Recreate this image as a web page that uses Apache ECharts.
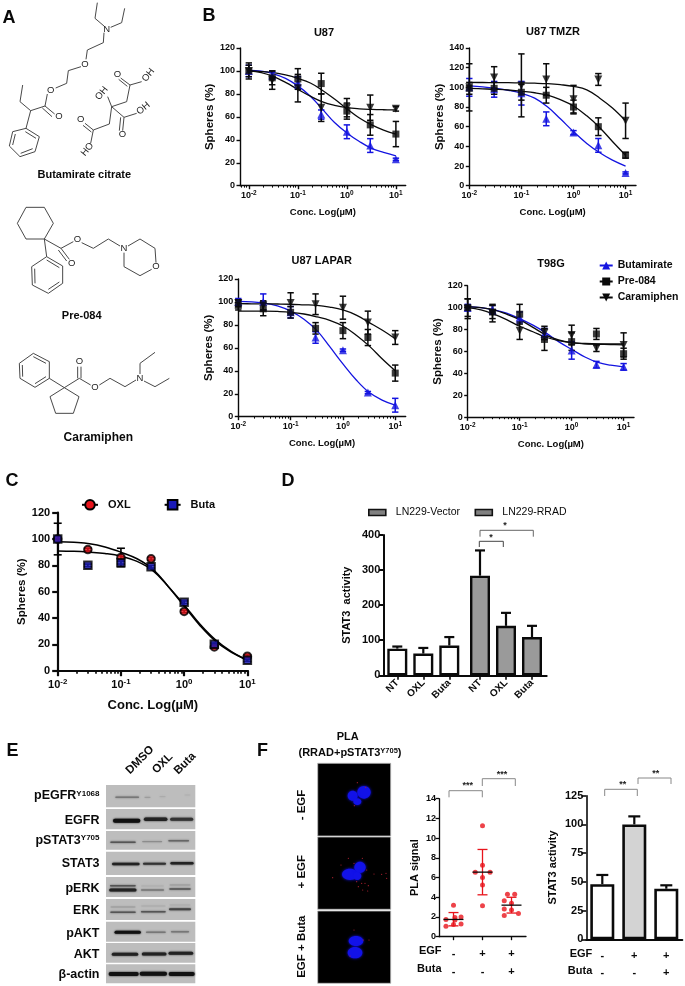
<!DOCTYPE html>
<html><head><meta charset="utf-8">
<style>html,body{margin:0;padding:0;background:#fff}#c{width:685px;height:986px}</style>
<script src="https://cdn.jsdelivr.net/npm/echarts@6/dist/echarts.min.js"></script>
</head><body><div id="c"></div>
<script>
// ---------- data ----------
const conc = [0.01,0.03,0.1,0.3,1,3,10];
const curveConc = [0.01,0.018,0.032,0.056,0.1,0.18,0.32,0.56,1,1.8,3.2,5.6,10];

const u87Buta = [100,96,90,62,47,35,23];
const u87ButaErr = [5,3,5,4,6,6,1];
const u87Pre = [100,94,93,89,65,53,45];
const u87PreErr = [5,6,9,9,7,9,11];
const u87Cara = [100,92,85,68,68,68,67];
const u87CaraErr = [7,8,12,12,8,11,2];
const u87ButaCurve = [100.5,99.8,97.5,93.5,87,78,66.5,55,46,38.5,32.5,29,26];
const u87PreCurve = [100,99.5,98.5,96.5,93.5,89.5,83,75.5,67,59,53,48.5,45];
const u87CaraCurve = [100,98.5,95,90,84,78,73,70,68,67,66.5,66.2,66];

const tmzButa = [100,98,94,68,54,41,13];
const tmzButaErr = [9,8,12,7,2,7,1];
const tmzPre = [99,99,95,92,80,60,31];
const tmzPreErr = [6,6,8,8,7,9,3];
const tmzCara = [100,110,102,108,88,108,66];
const tmzCaraErr = [24,11,32,16,14,6,18];
const tmzButaCurve = [101.5,100.5,99,97,94,89,80,68,55,43,33.5,26,20];
const tmzPreCurve = [99,98.5,98,97.3,96,94.5,92,87.5,81,71,59,45,31];
const tmzCaraCurve = [105,104.9,104.8,104.7,104.5,104.2,103.7,102.7,101,97.5,89,79,66];

const lapButa = [100,100,91,69,58,21,10];
const lapButaErr = [3,7,5,5,1,1,6];
const lapPre = [97,94,91,77,75,69,38];
const lapPreErr = [4,6,5,5,7,7,7];
const lapCara = [99,97,99,98,95,82,69];
const lapCaraErr = [3,4,9,9,10,10,6];
const lapButaCurve = [100.5,100,99,96.5,92,85,75,61,46,32,21,14.5,10];
const lapPreCurve = [92,92,92,91.7,91,89.5,87,84,79,71,61.5,50.5,40];
const lapCaraCurve = [98.5,98.4,98.3,98.2,98,97.5,97,95.5,93,88.5,82,75.5,68];

const t98Buta = [100,98,91,76,61,48,46];
const t98ButaErr = [3,4,5,5,8,3,3];
const t98Pre = [100,96,94,71,69,76,58];
const t98PreErr = [8,6,9,10,8,5,5];
const t98Cara = [99,95,79,77,75,63,66];
const t98CaraErr = [9,8,8,6,9,3,11];
const t98ButaCurve = [101,100,98,95,90,84,77,69,62,55,50,47.5,46];
const t98PreCurve = [101,100,98,94,89,82,75,70.5,68,67,66.6,66.3,66];
const t98CaraCurve = [100,98,94,89,83,78,73,70,68,67.3,67,67,67];

const oxl = [100,92,86,85,45,18,11];
const oxlErr = [0,1,7,1,1,1,1];
const buta = [100,80,82,79,52,20,8];
const butaErr = [12,1,1,1,1,1,1];
const oxlCurve = [98,97.5,96.5,94,90,85,77,64,49,34,22,14,8];
const butaCurve = [91,90.7,90,89,87,83,76,64,50,35,23,14.5,8];

const dCats = ['NT','OXL','Buta'];
const dVector = [76,62,85];
const dVectorTop = [82,78,109];
const dRrad = [284,141,109];
const dRradTop = [356,178,141];

const plaPoints = [[1,3.2],[0.74,1.75],[1.05,1.95],[1.26,2.0],[0.74,1.05],[1,1.25],[1.26,1.3],[1.05,1.7],
  [2,11.25],[2,7.25],[1.75,6.55],[2,6],[2,5.25],[2.26,6.55],[2,3.15],
  [2.86,4.3],[3.11,4.3],[3,3.4],[2.75,3.65],[2.75,2.8],[3,2.7],[2.75,2.15],[3.24,2.35]];
const plaMean = [1.75,6.55,3.2];
const plaLow = [1.1,4.25,2.4];
const plaHigh = [2.45,8.85,4.0];
const egfSigns = ['-','+','+'];
const butaSigns = ['-','-','+'];

const fCats = ['Control','EGF','EGF + Buta'];
const fStat3 = [48,100,44];
const fStat3Top = [56,107,47];
const fFill = ['#ffffff','#d3d3d3','#ffffff'];

const blotNames = [['{m|pEGFR}{s|Y1068}',796],['{m|EGFR}',820.7],['{m|pSTAT3}{s|Y705}',840.7],['{m|STAT3}',863.3],
  ['{m|pERK}',889],['{m|ERK}',910.7],['{m|pAKT}',933.3],['{m|AKT}',955],['{m|β-actin}',974.3]];

// ---------- helpers ----------
const F = '"Liberation Sans", Arial, sans-serif';
const grid=[], xAxis=[], yAxis=[], series=[], title=[], legend=[], graphic=[];
const log10 = Math.log10;
const BLUE='#1414e0', K='#0a0a0a';
const ts=(size,weight)=>({fontSize:size,fontWeight:weight||'bold',fontFamily:F,color:K});

function errSeries(xi, yi, rows, color, cap, lw){
  return {type:'custom', name:'error bars', xAxisIndex:xi, yAxisIndex:yi, silent:true, z:4, clip:false,
    encode:{x:0,y:[1,2]}, data:rows,
    renderItem(p, api){
      const a=api.coord([api.value(0),api.value(1)]), b=api.coord([api.value(0),api.value(2)]);
      const st={stroke:color,lineWidth:lw,fill:null};
      const kids=[{type:'line',shape:{x1:a[0],y1:a[1],x2:b[0],y2:b[1]},style:st},
                  {type:'line',shape:{x1:b[0]-cap,y1:b[1],x2:b[0]+cap,y2:b[1]},style:st}];
      if(!(api.value(3)===api.value(1)))
        kids.push({type:'line',shape:{x1:a[0]-cap,y1:a[1],x2:a[0]+cap,y2:a[1]},style:st});
      return {type:'group',children:kids};
    }};
}
function tickStyle(lw,c){return {lineStyle:{color:c||K,width:lw}};}
function logAxes(o){
  const g=grid.length;
  grid.push({left:o.left,top:o.top,width:o.right-o.left,height:o.bottom-o.top});
  const majors=[-2,-1,0,1];
  const minors=[];
  for(let d=-3;d<=1;d++)for(let m=2;m<=9;m++){const v=d+log10(m); if(v>o.xmin&&v<o.xmax)minors.push(v);}
  const xi=xAxis.length;
  xAxis.push({type:'value',gridIndex:g,position:'bottom',min:o.xmin,max:o.xmax,splitLine:{show:false},
    axisLine:{onZero:false,...tickStyle(o.lw)},
    axisTick:{customValues:majors,length:o.tick,...tickStyle(o.lw)},
    axisLabel:{customValues:majors,margin:o.margin,formatter:v=>`{b|10}{s|${Math.round(v)}}`,
      rich:{b:ts(o.fs),s:Object.assign(ts(o.fs*0.72),{padding:[0,0,o.fs*0.5,0]})}},
    name:'Conc. Log(µM)',nameLocation:'middle',nameGap:o.nameGapX,nameTextStyle:ts(o.nameFs)});
  xAxis.push({type:'value',gridIndex:g,position:'bottom',min:o.xmin,max:o.xmax,splitLine:{show:false},
    axisLine:{show:false,onZero:false},
    axisTick:{customValues:minors,length:o.tick*0.55,lineStyle:{color:K,width:o.lw*0.75}},axisLabel:{show:false}});
  const yi=yAxis.length;
  yAxis.push({type:'value',gridIndex:g,min:0,max:o.ymax,interval:o.yint,splitLine:{show:false},
    axisLine:{show:true,onZero:false,...tickStyle(o.lw)},axisTick:{show:true,length:o.tick,...tickStyle(o.lw)},
    axisLabel:Object.assign({margin:o.margin},ts(o.fs)),
    name:'Spheres (%)',nameLocation:'middle',nameGap:o.nameGapY,nameTextStyle:ts(o.nameYFs)});
  return {xi,yi};
}
function curve(ax,name,vals,color,sym,rot,size,lw,itemExtra){
  series.push({type:'line',name,xAxisIndex:ax.xi,yAxisIndex:ax.yi,smooth:0.4,showSymbol:false,silent:true,z:3,
    symbol:sym,symbolRotate:rot,symbolSize:size,
    itemStyle:Object.assign({color},itemExtra||{}),
    lineStyle:{color:itemExtra?'#000':color,width:lw},
    data:curveConc.map((c,i)=>[log10(c),vals[i]])});
}
function points(ax,name,vals,errs,color,sym,rot,size,lw,cap,lwE,extra,errColor){
  series.push(errSeries(ax.xi,ax.yi,conc.map((c,i)=>[log10(c),vals[i]-errs[i],vals[i]+errs[i]]),errColor||color,cap,lwE));
  series.push({type:'scatter',name:name+' points',xAxisIndex:ax.xi,yAxisIndex:ax.yi,silent:true,z:5,
    symbol:sym,symbolRotate:rot,symbolSize:size,itemStyle:Object.assign({color},extra||{}),
    data:conc.map((c,i)=>[log10(c),vals[i]])});
}
function panelB(o,tt,b,be,p,pe,c,ce,bc,pc,cc){
  const ax=logAxes(Object.assign({lw:1.4,tick:3.5,margin:5,fs:9,nameFs:9.5,nameYFs:11.5,nameGapX:22,nameGapY:17},o));
  curve(ax,'Butamirate',bc,BLUE,'triangle',0,8,1.3);
  curve(ax,'Pre-084',pc,K,'rect',0,7,1.3);
  curve(ax,'Caramiphen',cc,K,'triangle',180,8,1.3);
  points(ax,'Butamirate',b,be,BLUE,'triangle',0,8,0,3.2,1.5);
  points(ax,'Pre-084',p,pe,K,'rect',0,7,0,3.2,1.5);
  points(ax,'Caramiphen',c,ce,K,'triangle',180,8,0,3.2,1.5);
  title.push({text:tt,left:o.tx,top:o.ty,textAlign:'center',padding:0,textStyle:ts(11)});
}

// ---------- panel B ----------
panelB({left:240,right:405.7,top:48,bottom:185.7,xmin:-2.18,xmax:1.2,ymax:120,yint:20,tx:324,ty:27},'U87',
  u87Buta,u87ButaErr,u87Pre,u87PreErr,u87Cara,u87CaraErr,u87ButaCurve,u87PreCurve,u87CaraCurve);
panelB({left:469.3,right:636,top:48,bottom:185.7,xmin:-2,xmax:1.2,ymax:140,yint:20,tx:553,ty:26},'U87 TMZR',
  tmzButa,tmzButaErr,tmzPre,tmzPreErr,tmzCara,tmzCaraErr,tmzButaCurve,tmzPreCurve,tmzCaraCurve);
panelB({left:238.3,right:405.7,top:279,bottom:416.7,xmin:-2,xmax:1.2,ymax:120,yint:20,tx:321.7,ty:255.5},'U87 LAPAR',
  lapButa,lapButaErr,lapPre,lapPreErr,lapCara,lapCaraErr,lapButaCurve,lapPreCurve,lapCaraCurve);
panelB({left:467.7,right:634,top:285.7,bottom:417.3,xmin:-2,xmax:1.2,ymax:120,yint:20,tx:551,ty:258.5},'T98G',
  t98Buta,t98ButaErr,t98Pre,t98PreErr,t98Cara,t98CaraErr,t98ButaCurve,t98PreCurve,t98CaraCurve);
legend.push({orient:'vertical',left:598.7,top:260,padding:0,itemWidth:13,itemHeight:10,itemGap:5,
  data:['Butamirate','Pre-084','Caramiphen'],selectedMode:false,textStyle:ts(10.5)});

// ---------- panel C ----------
{
  const ax=logAxes({left:57.7,right:248,top:512.7,bottom:670.7,xmin:-2,xmax:1.01,ymax:120,yint:20,lw:2.2,tick:5.5,margin:7.5,fs:11,
    nameFs:13,nameYFs:11.5,nameGapX:28,nameGapY:29});
  const ring={borderColor:'#000',borderWidth:2};
  curve(ax,'OXL',oxlCurve,'#e8141c','circle',0,10,1.5,ring);
  curve(ax,'Buta',butaCurve,'#1a1ab8','rect',0,10,1.5,ring);
  points(ax,'OXL',oxl,oxlErr,'#e8141c','circle',0,7.5,0,4,1.6,ring,'#000');
  points(ax,'Buta',buta,butaErr,'#1a1ab8','rect',0,7.5,0,4,1.6,ring,'#000');
  legend.push({left:81,top:499,padding:0,itemWidth:16,itemHeight:12,itemGap:33,selectedMode:false,
    data:['OXL','Buta'],textStyle:Object.assign(ts(11),{padding:[0,0,0,5]})});
}

// ---------- panel D ----------
function barChartSeries(gi,xi,yi,name,cats,vals,tops,fill,bw,blw,cap,lwE){
  series.push({type:'bar',name,xAxisIndex:xi,yAxisIndex:yi,barWidth:bw,silent:true,z:2,
    itemStyle:{color:Array.isArray(fill)?(p=>fill[p.dataIndex]):fill,borderColor:K,borderWidth:blw},data:vals});
  const rows=cats.map((c,i)=>[i,vals[i],tops[i],vals[i]]);
  series.push(errSeries(xi,yi,rows,K,cap,lwE));
}
{
  // frame: full-width baseline and y axis
  const g0=grid.length;
  grid.push({left:383.3,top:535,width:163.4,height:140.3});
  xAxis.push({type:'category',gridIndex:g0,data:[''],axisLine:{...tickStyle(2)},axisTick:{show:false},axisLabel:{show:false}});
  yAxis.push({type:'value',gridIndex:g0,min:0,max:400,interval:100,splitLine:{show:false},
    axisLine:{show:true,...tickStyle(2)},axisTick:{show:true,length:4.5,...tickStyle(2)},
    axisLabel:Object.assign({margin:3},ts(11)),
    name:'STAT3  activity',nameLocation:'middle',nameGap:31,nameTextStyle:ts(11)});
  const mk=(left,name,vals,tops,fill)=>{
    const g=grid.length;
    grid.push({left,top:535,width:78,height:140.3});
    const xi=xAxis.length;
    xAxis.push({type:'category',gridIndex:g,data:dCats,axisLine:{show:false},
      axisTick:{show:true,length:4.5,alignWithLabel:true,...tickStyle(1.6)},
      axisLabel:Object.assign({rotate:45,margin:6,interval:0},ts(10))});
    const yi=yAxis.length;
    yAxis.push({type:'value',gridIndex:g,min:0,max:400,show:false});
    barChartSeries(g,xi,yi,name,dCats,vals,tops,fill,20,2.4,5,2.2);
  };
  mk(384.3,'LN229-Vector',dVector,dVectorTop,'#ffffff');
  mk(467,'LN229-RRAD',dRrad,dRradTop,'#9a9a9a');
  const sw={color:'#808080',borderColor:'#111',borderWidth:1.6};
  legend.push({left:368,top:507,padding:0,itemWidth:17,itemHeight:6,itemGap:14.5,selectedMode:false,
    data:[{name:'LN229-Vector',icon:'rect',itemStyle:sw},{name:'LN229-RRAD',icon:'rect',itemStyle:sw}],
    textStyle:Object.assign(ts(10.5,'normal'),{padding:[0,0,0,5]})});
}

// ---------- panel F: PLA scatter ----------
{
  const g=grid.length;
  grid.push({left:439,top:798.7,width:87,height:138});
  const xi=xAxis.length;
  xAxis.push({type:'value',gridIndex:g,min:0.5,max:3.5,splitLine:{show:false},axisLine:{onZero:false,...tickStyle(1.3)},
    axisTick:{customValues:[1,2,3],length:3.5,...tickStyle(1.3)},
    axisLabel:Object.assign({customValues:[1,2,3],margin:8,lineHeight:18,
      formatter:v=>egfSigns[v-1]+'\n'+butaSigns[v-1]},ts(11))});
  const yi=yAxis.length;
  yAxis.push({type:'value',gridIndex:g,min:0,max:14,interval:2,splitLine:{show:false},
    axisLine:{show:true,onZero:false,...tickStyle(1.3)},axisTick:{show:true,length:3.5,...tickStyle(1.3)},
    axisLabel:Object.assign({margin:3},ts(9)),
    name:'PLA signal',nameLocation:'middle',nameGap:19,nameTextStyle:ts(11)});
  series.push({type:'scatter',name:'PLA signal',xAxisIndex:xi,yAxisIndex:yi,silent:true,z:3,symbolSize:5,
    itemStyle:{color:'#e8141c'},data:plaPoints});
  series.push(errSeries(xi,yi,[1,2,3].map((x,i)=>[x,plaLow[i],plaHigh[i]]),'#e8141c',5,1.3));
  series.push({type:'custom',name:'PLA mean',xAxisIndex:xi,yAxisIndex:yi,silent:true,z:6,encode:{x:0,y:1},
    data:[1,2,3].map((x,i)=>[x,plaMean[i]]),
    renderItem(p,api){const c=api.coord([api.value(0),api.value(1)]);
      return {type:'line',shape:{x1:c[0]-10,y1:c[1],x2:c[0]+10,y2:c[1]},style:{stroke:K,lineWidth:1.3}};}});
}
// ---------- panel F: STAT3 bars ----------
{
  const g=grid.length;
  grid.push({left:586.3,top:795.7,width:96,height:143.6});
  const xi=xAxis.length;
  xAxis.push({type:'category',gridIndex:g,data:fCats,axisLine:{...tickStyle(2)},
    axisTick:{length:4,alignWithLabel:true,...tickStyle(1.6)},
    axisLabel:Object.assign({interval:0,margin:8,lineHeight:17,
      formatter:(v,i)=>egfSigns[i]+'\n'+butaSigns[i]},ts(11))});
  const yi=yAxis.length;
  yAxis.push({type:'value',gridIndex:g,min:0,max:125,interval:25,splitLine:{show:false},
    axisLine:{show:true,...tickStyle(1.6)},axisTick:{show:true,length:5,...tickStyle(1.6)},
    axisLabel:Object.assign({margin:3},ts(11)),
    name:'STAT3 activity',nameLocation:'middle',nameGap:28,nameTextStyle:ts(11)});
  barChartSeries(g,xi,yi,'STAT3 activity',fCats,fStat3,fStat3Top,fFill,24,2.6,6,2.2);
}

// ---------- non-data artwork ----------
const txt=(x,y,text,font,o)=>graphic.push(Object.assign({type:'text',x,y,silent:true,
  style:Object.assign({text,font,fill:K,textAlign:'center',textVerticalAlign:'middle'},(o&&o.style)||{})},o&&o.rotation!==undefined?{rotation:o.rotation}:{}));
const line=(pts,c,w,extra)=>graphic.push({type:'polyline',silent:true,shape:{points:pts},
  style:Object.assign({stroke:c,lineWidth:w,fill:null},extra||{})});

[['A',9,18.5],['B',209,16],['C',12,481],['D',288,481],['E',12.5,751],['F',262.5,751]].forEach(a=>
  txt(a[1],a[2],a[0],`bold 18px ${F}`));

// panel A: structures (reference-scale units, 3 = 1px)
const s3=p=>p.map(q=>[q[0]/3,q[1]/3]);
const bonds=[
 // butamirate
 [[292,8],[285,55],[312,78]],[[374,25],[365,68],[332,82]],[[312,98],[310,128],[262,150],[258,178]],
 [[243,200],[205,212],[200,250],[167,264]],[[142,282],[135,318],[92,332],[60,305],[68,255]],
 [[135,318],[164,342]],[[127,324],[156,350]],[[92,332],[78,385]],
 [[78,385],[118,410],[105,455],[60,470],[28,438],[38,395],[78,385]],[[76,395],[108,415]],[[98,446],[62,460]],[[38,435],[46,402]],
 // citric acid
 [[335,320],[380,305],[390,255],[362,234]],[[382,259],[356,238]],[[390,255],[425,245]],[[335,320],[323,290]],
 [[335,320],[372,352],[410,340]],[[372,352],[368,392]],[[362,352],[358,392]],
 [[335,320],[328,372],[280,390],[255,370]],[[274,396],[249,376]],[[280,390],[272,430]],
 // pre-084
 [[52,670],[78,622],[133,622],[160,670],[133,717],[78,717],[52,670]],[[133,717],[183,745],[220,725]],
 [[183,745],[208,778]],[[175,750],[200,783]],[[245,728],[280,745],[325,717],[360,738]],
 [[384,738],[420,717],[465,745],[468,788]],[[455,808],[420,827],[372,800],[372,758]],[[133,717],[140,770]],
 [[140,770],[188,798],[188,850],[145,880],[97,855],[95,800],[140,770]],[[140,780],[178,803]],[[178,846],[145,868]],[[105,850],[104,806]],
 // caramiphen
 [[58,1090],[100,1060],[148,1085],[148,1135],[105,1162],[60,1135],[58,1090]],[[100,1070],[138,1090]],[[138,1130],[105,1151]],[[68,1130],[67,1095]],
 [[148,1135],[193,1163]],[[193,1163],[237,1190],[220,1240],[167,1240],[150,1190],[193,1163]],
 [[193,1163],[238,1135],[272,1155]],[[233,1135],[233,1100]],[[243,1135],[243,1100]],
 [[298,1155],[330,1135],[375,1160],[408,1140]],[[420,1122],[420,1090],[465,1057]],[[432,1143],[465,1160],[508,1135]]
];
bonds.forEach(b=>line(s3(b),'#333',0.9));
const atom=(zx,zy,t,rot)=>txt(zx/3,zy/3,t,`9.5px ${F}`,{style:{fill:'#222'},rotation:rot||0});
[[320,87,'N'],[255,192,'O'],[152,271,'O'],[177,350,'O'],[352,222,'O'],[445,225,'OH',0.9],[305,280,'OH',0.9],[430,325,'OH',0.7],
 [367,403,'O'],[242,358,'O'],[262,448,'HO',0.9],[232,718,'O'],[215,790,'O'],[372,745,'N'],[468,800,'O'],
 [238,1085,'O'],[285,1162,'O'],[420,1135,'N']].forEach(a=>atom(a[0],a[1],a[2],a[3]));
txt(84.3,175,'Butamirate citrate',`bold 11px ${F}`);
txt(81.7,316,'Pre-084',`bold 11px ${F}`);
txt(98.3,437.5,'Caramiphen',`bold 12px ${F}`);

// brackets
function bracket(x1,x2,yt,yb,c,lbl,lx,ly){
  line([[x1,yb],[x1,yt],[x2,yt],[x2,yb]],c,1);
  txt(lx,ly,lbl,`bold 9px ${F}`,{style:{fill:'#222'}});
}
bracket(480,533.3,530.3,536.7,'#666','*',505,526);
bracket(479.3,503.3,541.3,547,'#444','*',491,537.5);
bracket(449,482.3,790.7,797.3,'#888','***',467.7,786);
bracket(482.3,515.3,778.7,786,'#888','***',502,774.3);
bracket(604.7,637.3,789.3,796,'#888','**',622.7,785);
bracket(638,671,778,784,'#888','**',655.7,773.3);

// F row labels
[[441.5,950.7,'EGF'],[441.5,968.7,'Buta'],[592.3,954.3,'EGF'],[592.3,971.3,'Buta']].forEach(r=>
  txt(r[0],r[1],r[2],`bold 11px ${F}`,{style:{textAlign:'right'}}));

// panel E: blots
const strips=[[255,322],[327,388],[393,449],[455,525],[531,591],[597,660],[665,725],[729,788],[793,850]];
strips.forEach(s=>graphic.push({type:'rect',silent:true,shape:{x:106,y:700+s[0]/3,width:89.3,height:(s[1]-s[0])/3},style:{fill:'#bdbdbd'}}));
const bands=[[348,415,292,1.5,'#777'],[435,450,292,1,'#999'],[480,495,290,1,'#aaa'],[555,570,285,1,'#b0b0b0'],
 [345,415,362,4,'#111'],[437,497,358,3.5,'#222'],[515,575,358,3,'#333'],
 [333,405,427,1.5,'#555'],[428,485,425,1,'#888'],[507,565,422,1.5,'#666'],
 [340,415,492,2.5,'#222'],[432,495,491,2,'#333'],[515,577,490,2.5,'#222'],
 [332,405,557,1.5,'#555'],[332,405,570,3,'#222'],[425,490,570,1.5,'#777'],[425,490,558,0.8,'#aaa'],[510,570,555,1,'#999'],[510,570,567,1.5,'#555'],
 [333,405,621,1,'#999'],[333,405,637,1.5,'#555'],[425,495,618,1,'#aaa'],[425,495,635,1.5,'#555'],[510,570,615,1,'#aaa'],[510,570,628,2,'#444'],
 [348,418,697,3,'#111'],[440,495,697,1.5,'#777'],[515,565,695,1.5,'#777'],
 [340,410,763,3,'#222'],[430,495,762,3,'#222'],[510,575,760,3,'#222'],
 [332,410,822,4,'#111'],[425,495,821,4,'#111'],[512,578,822,4,'#111']];
bands.forEach(b=>line([[b[0]/3,700+b[2]/3],[b[1]/3,700+b[2]/3]],b[4],b[3],{lineCap:'round',shadowBlur:2,shadowColor:b[4]}));
blotNames.forEach(n=>graphic.push({type:'text',x:99.5,y:n[1],silent:true,style:{text:n[0],textAlign:'right',textVerticalAlign:'middle',
  rich:{m:{font:`bold 12.5px ${F}`,fill:K},s:{font:`bold 8px ${F}`,fill:K,padding:[0,0,5,0]}}}}));
[[140,760,'DMSO'],[162.5,763.5,'OXL'],[185,763.5,'Buta']].forEach(c=>txt(c[0],c[1],c[2],`bold 11.5px ${F}`,{rotation:Math.PI/4}));

// panel F: micrographs
txt(347.7,737.3,'PLA',`bold 11px ${F}`);
graphic.push({type:'text',x:350,y:752.7,silent:true,style:{text:'{m|(RRAD+pSTAT3}{s|Y705}{m|)}',textAlign:'center',textVerticalAlign:'middle',
  rich:{m:{font:`bold 11px ${F}`,fill:K},s:{font:`bold 7.5px ${F}`,fill:K,padding:[0,0,4,0]}}}});
[[763.3,836],[837,909.3],[911,983.3]].forEach(p=>graphic.push({type:'rect',silent:true,shape:{x:317.7,y:p[0],width:73,height:p[1]-p[0]},
  style:{fill:'#000',stroke:'#bbb',lineWidth:0.8}}));
const zx=v=>300+v/3, zy=v=>710+v/3;
[[192,247,20,19],[158,257,15,15],[172,275,12,10],[150,493,24,17],[180,472,17,17],[172,498,12,12],[168,693,22,15],[165,728,22,17]].forEach(e=>
  graphic.push({type:'ellipse',silent:true,shape:{cx:zx(e[0]),cy:zy(e[1]),rx:e[2]/3,ry:e[3]/3},style:{fill:'#1212e8',shadowBlur:3,shadowColor:'#1212e8'}}));
[[163,287],[197,232],[172,218],[123,465],[145,445],[187,445],[162,460],[200,480],[222,492],[245,493],[260,505],[258,490],[98,503],
 [170,515],[185,520],[195,520],[205,527],[188,540],[203,543],[175,530],[162,660],[190,690],[207,690],[150,738]].forEach(d=>
  graphic.push({type:'circle',silent:true,shape:{cx:zx(d[0]),cy:zy(d[1]),r:0.6},style:{fill:'#b02030'}}));
[[301.7,805,'- EGF'],[301.7,871.7,'+ EGF'],[301.7,946.7,'EGF + Buta']].forEach(c=>txt(c[0],c[1],c[2],`bold 11.5px ${F}`,{rotation:Math.PI/2}));

const chart=echarts.init(document.getElementById('c'),null,{renderer:'canvas',width:685,height:986});
chart.setOption({animation:false,backgroundColor:'#fff',tooltip:{show:false},title,legend,grid,xAxis,yAxis,series,graphic:{elements:graphic}});
</script></body></html>
